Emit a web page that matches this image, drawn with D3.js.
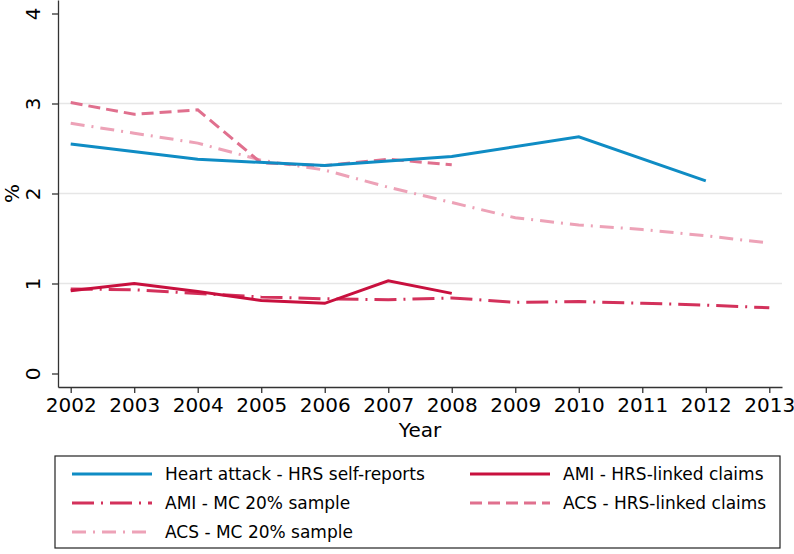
<!DOCTYPE html>
<html>
<head>
<meta charset="utf-8">
<script src="https://cdn.jsdelivr.net/npm/d3@7"></script>
<style>
  body { margin: 0; background: #fff; }
  text { font-family: "DejaVu Sans", Verdana, sans-serif; fill: #000; }
</style>
</head>
<body>
<div id="chart"></div>
<script>
// values
var years = [2002, 2003, 2004, 2005, 2006, 2007, 2008, 2009, 2010, 2011, 2012, 2013]
var hrsYears = [2002, 2004, 2006, 2008, 2010, 2012]
var heartAttackSelf = [2.55, 2.38, 2.31, 2.41, 2.63, 2.14]
var amiClaimsYears = [2002, 2003, 2004, 2005, 2006, 2007, 2008]
var amiClaims = [0.92, 1.00, 0.91, 0.81, 0.78, 1.03, 0.89]
var amiMC = [0.94, 0.93, 0.89, 0.85, 0.83, 0.82, 0.84, 0.79, 0.80, 0.78, 0.76, 0.73]
var acsClaims = [3.01, 2.88, 2.93, 2.34, 2.31, 2.38, 2.32]
var acsMC = [2.78, 2.67, 2.56, 2.37, 2.26, 2.07, 1.90, 1.73, 1.65, 1.60, 1.53, 1.45]
var yTicks = [0, 1, 2, 3, 4]

var series = [
    {name: "Heart attack - HRS self-reports", x: hrsYears, y: heartAttackSelf, color: "#0f8cc4", dash: null},
    {name: "AMI - HRS-linked claims", x: amiClaimsYears, y: amiClaims, color: "#c8103e", dash: null},
    {name: "AMI - MC 20% sample", x: years, y: amiMC, color: "#d3315b", dash: "22,7,2,7"},
    {name: "ACS - HRS-linked claims", x: amiClaimsYears, y: acsClaims, color: "#e0708e", dash: "12,6"},
    {name: "ACS - MC 20% sample", x: years, y: acsMC, color: "#eda2b7", dash: "14,7,2,7"}
]

var svg = d3.select("#chart")
    .append("svg")
    .attr("width", 794)
    .attr("height", 554)

var xScale = d3.scaleLinear().domain([2001.8, 2013.2]).range([58, 782])
var yScale = d3.scaleLinear().domain([-0.15, 4.15]).range([387, 0])

// grid
svg.append("g").selectAll("line")
    .data([1, 2, 3])
    .enter()
    .append("line")
    .attr("x1", 58).attr("x2", 782)
    .attr("y1", d => yScale(d)).attr("y2", d => yScale(d))
    .attr("stroke", "#e6e6e6")
    .attr("stroke-width", 1.5)

// axes
var xAxis = d3.axisBottom(xScale).tickValues(years).tickFormat(d3.format("d")).tickSize(6).tickSizeOuter(0)
var gx = svg.append("g").attr("transform", "translate(0, 387)").call(xAxis)
gx.selectAll("text").attr("font-size", 20).attr("dy", "0.95em").attr("y", 6)

var yAxis = d3.axisLeft(yScale).tickValues(yTicks).tickFormat(d3.format("d")).tickSize(6).tickSizeOuter(0)
var gy = svg.append("g").attr("transform", "translate(58, 0)").call(yAxis)
gy.selectAll("text")
    .attr("font-size", 20)
    .attr("x", 0).attr("y", 0).attr("dy", 0)
    .attr("text-anchor", "middle")
    .attr("transform", "translate(-18, 0) rotate(-90)")

svg.selectAll(".domain, .tick line").attr("stroke", "#333").attr("stroke-width", 1.3)

svg.append("text")
    .attr("transform", `translate(19, ${yScale(2)}) rotate(-90)`)
    .attr("text-anchor", "middle")
    .attr("font-size", 20)
    .text("%")

svg.append("text")
    .attr("x", xScale(2007.5))
    .attr("y", 437)
    .attr("text-anchor", "middle")
    .attr("font-size", 20)
    .text("Year")

// lines
var line = d3.line()
    .x(d => xScale(d[0]))
    .y(d => yScale(d[1]))

var plot = svg.append("g")
series.slice().reverse().forEach(s => {
    plot.append("path")
        .datum(s.x.map((x, i) => [x, s.y[i]]))
        .attr("d", line)
        .attr("fill", "none")
        .attr("stroke", s.color)
        .attr("stroke-width", 3)
        .attr("stroke-dasharray", s.dash)
})

// legend
var legend = svg.append("g")
legend.append("rect")
    .attr("x", 55).attr("y", 456)
    .attr("width", 725).attr("height", 92)
    .attr("fill", "none")
    .attr("stroke", "#222")
    .attr("stroke-width", 1.2)

var legPos = [[72, 474], [470, 474], [72, 503], [470, 503], [72, 532]]
series.forEach((s, i) => {
    var p = legPos[i]
    legend.append("line")
        .attr("x1", p[0]).attr("x2", p[0] + 80)
        .attr("y1", p[1]).attr("y2", p[1])
        .attr("stroke", s.color)
        .attr("stroke-width", 3)
        .attr("stroke-dasharray", s.dash)
    legend.append("text")
        .attr("x", p[0] + 93)
        .attr("y", p[1])
        .attr("dy", "0.35em")
        .attr("font-size", 17)
        .text(s.name)
})
</script>
</body>
</html>
